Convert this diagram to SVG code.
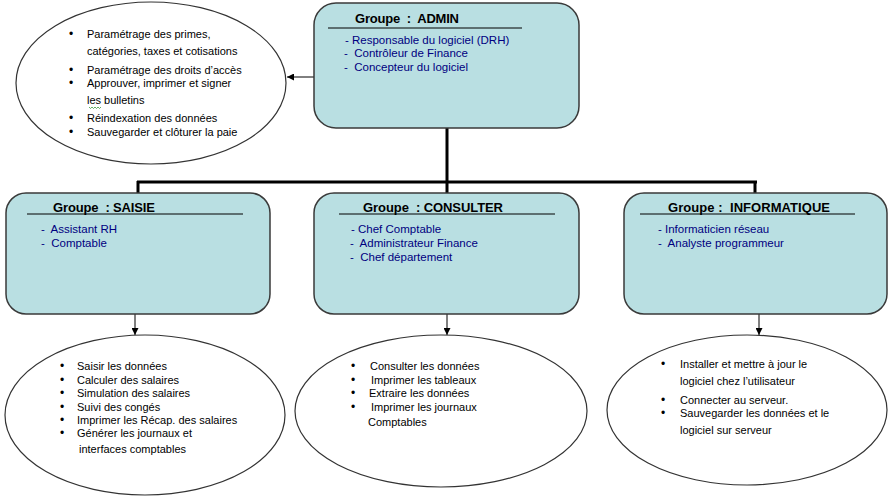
<svg xmlns="http://www.w3.org/2000/svg" width="890" height="499" viewBox="0 0 890 499">
<defs>
<marker id="arr" viewBox="0 0 10 10" refX="10" refY="5" markerWidth="7" markerHeight="7" markerUnits="userSpaceOnUse" orient="auto">
<path d="M0,0 L10,5 L0,10 z" fill="#000"/>
</marker>
<style>
.box{fill:#b9dfe2;stroke:#3a3a3a;stroke-width:1.5}
.ell{fill:#fff;stroke:#333;stroke-width:1.2}
.title{font-family:"Liberation Sans",Arial,sans-serif;font-size:13px;font-weight:bold;fill:#000;white-space:pre}
.rule{stroke:#000;stroke-width:1}
.item{font-family:"Liberation Sans",Arial,sans-serif;font-size:11.5px;fill:#000080;white-space:pre}
.txt{font-family:"Liberation Sans",Arial,sans-serif;font-size:11px;fill:#000;white-space:pre}
.bul{font-family:"Liberation Sans",Arial,sans-serif;font-size:12px;fill:#000}
.thick{fill:none;stroke:#000;stroke-width:3}
.thin{fill:none;stroke:#000;stroke-width:1}
</style>
</defs>
<rect width="890" height="499" fill="#fff"/>

<g id="connectors">
<path class="thick" d="M447,128 V182 M137,182 H757 M138,181 V193 M447,181 V193 M755,181 V193"/>
<line class="thin" x1="314" y1="77" x2="287" y2="77" marker-end="url(#arr)"/>
<line class="thin" x1="135" y1="314" x2="135" y2="335" marker-end="url(#arr)"/>
<line class="thin" x1="447" y1="314" x2="447" y2="335" marker-end="url(#arr)"/>
<line class="thin" x1="759" y1="314" x2="759" y2="335" marker-end="url(#arr)"/>
</g>

<g id="admin">
<rect class="box" x="314" y="3" width="265" height="125" rx="22"/>
<text class="title" x="355" y="23" textLength="104" lengthAdjust="spacing">Groupe  :  ADMIN</text>
<line class="rule" x1="328" y1="28" x2="522" y2="28"/>
<text class="item" x="345" y="44">- Responsable du logiciel (DRH)</text>
<text class="item" x="344" y="57">-  Contrôleur de Finance</text>
<text class="item" x="344" y="71">-  Concepteur du logiciel</text>
</g>

<g id="admin-tasks">
<ellipse class="ell" cx="151" cy="83" rx="135" ry="81"/>
<text class="bul" x="69" y="38">•</text>
<text class="txt" x="87" y="38">Paramétrage des primes,</text>
<text class="txt" x="87" y="55">catégories, taxes et cotisations</text>
<text class="bul" x="69" y="74">•</text>
<text class="txt" x="87" y="74">Paramétrage des droits d’accès</text>
<text class="bul" x="69" y="87">•</text>
<text class="txt" x="87" y="87">Approuver, imprimer et signer</text>
<text class="txt" x="87" y="104">les bulletins</text>
<path d="M89,107 l1.5,1.5 l1.5,-1.5 l1.5,1.5 l1.5,-1.5 l1.5,1.5 l1.5,-1.5 l1.5,1.5 l1.5,-1.5" fill="none" stroke="#3c9a3c" stroke-width="0.8"/>
<text class="bul" x="69" y="122">•</text>
<text class="txt" x="87" y="122">Réindexation des données</text>
<text class="bul" x="69" y="136">•</text>
<text class="txt" x="87" y="136">Sauvegarder et clôturer la paie</text>
</g>

<g id="saisie">
<rect class="box" x="6" y="193" width="264" height="121" rx="20"/>
<text class="title" x="53" y="212" textLength="102" lengthAdjust="spacing">Groupe  : SAISIE</text>
<line class="rule" x1="27" y1="214" x2="243" y2="214"/>
<text class="item" x="41" y="233">-  Assistant RH</text>
<text class="item" x="41" y="247">-  Comptable</text>
</g>

<g id="consulter">
<rect class="box" x="314" y="193" width="265" height="121" rx="20"/>
<text class="title" x="363" y="212" textLength="140" lengthAdjust="spacing">Groupe  : CONSULTER</text>
<line class="rule" x1="339" y1="214" x2="555" y2="214"/>
<text class="item" x="351" y="233">- Chef Comptable</text>
<text class="item" x="350" y="247">-  Administrateur Finance</text>
<text class="item" x="350" y="261">-  Chef département</text>
</g>

<g id="informatique">
<rect class="box" x="624" y="193" width="263" height="121" rx="20"/>
<text class="title" x="668" y="212" textLength="162" lengthAdjust="spacing">Groupe :  INFORMATIQUE</text>
<line class="rule" x1="640" y1="214" x2="855" y2="214"/>
<text class="item" x="658" y="233">- Informaticien réseau</text>
<text class="item" x="658" y="247">-  Analyste programmeur</text>
</g>

<g id="saisie-tasks">
<ellipse class="ell" cx="145" cy="415" rx="140" ry="80"/>
<text class="bul" x="60" y="370">•</text><text class="txt" x="77" y="370">Saisir les données</text>
<text class="bul" x="60" y="384">•</text><text class="txt" x="77" y="384">Calculer des salaires</text>
<text class="bul" x="60" y="397">•</text><text class="txt" x="77" y="397">Simulation des salaires</text>
<text class="bul" x="60" y="411">•</text><text class="txt" x="77" y="411">Suivi des congés</text>
<text class="bul" x="60" y="424">•</text><text class="txt" x="77" y="424">Imprimer les Récap. des salaires</text>
<text class="bul" x="60" y="437">•</text><text class="txt" x="77" y="437">Générer les journaux et</text>
<text class="txt" x="79" y="453">interfaces comptables</text>
</g>

<g id="consulter-tasks">
<ellipse class="ell" cx="441" cy="411" rx="146" ry="76"/>
<text class="bul" x="351" y="370">•</text><text class="txt" x="370" y="370">Consulter les données</text>
<text class="bul" x="351" y="384">•</text><text class="txt" x="371" y="384">Imprimer les tableaux</text>
<text class="bul" x="351" y="397">•</text><text class="txt" x="369" y="397">Extraire les données</text>
<text class="bul" x="351" y="411">•</text><text class="txt" x="371" y="411">Imprimer les journaux</text>
<text class="txt" x="368" y="426">Comptables</text>
</g>

<g id="informatique-tasks">
<ellipse class="ell" cx="747" cy="410" rx="140" ry="75"/>
<text class="bul" x="661" y="368">•</text><text class="txt" x="680" y="368">Installer et mettre à jour le</text>
<text class="txt" x="680" y="385">logiciel chez l’utilisateur</text>
<text class="bul" x="661" y="404">•</text><text class="txt" x="680" y="404">Connecter au serveur.</text>
<text class="bul" x="661" y="417">•</text><text class="txt" x="680" y="417">Sauvegarder les données et le</text>
<text class="txt" x="680" y="434">logiciel sur serveur</text>
</g>
</svg>
